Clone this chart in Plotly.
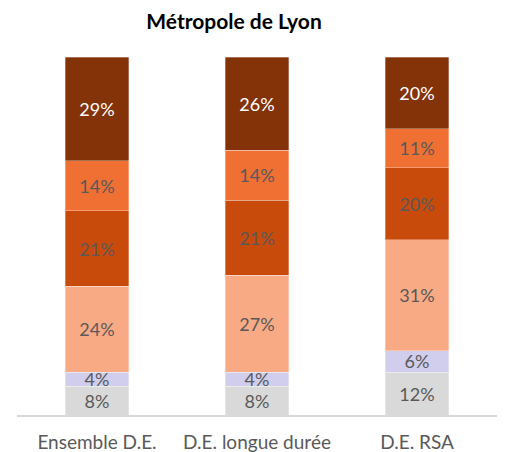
import plotly.graph_objects as go

categories = ["Ensemble D.E.", "D.E. longue durée", "D.E. RSA"]

# Stacked shares (%) from bottom to top
seg1 = [8, 8, 12]
seg2 = [4, 4, 6]
seg3 = [24, 27, 31]
seg4 = [21, 21, 20]
seg5 = [14, 14, 11]
seg6 = [29, 26, 20]

series = [seg1, seg2, seg3, seg4, seg5, seg6]
colors = ["#D9D9D9", "#D0CEEC", "#F8AA85", "#C94B0C", "#F07033", "#843208"]
text_colors = ["#595959", "#595959", "#595959", "#595959", "#595959", "#FFFFFF"]

fig = go.Figure()
for vals, col, tcol in zip(series, colors, text_colors):
    fig.add_trace(go.Bar(
        x=categories,
        y=vals,
        marker=dict(color=col, line=dict(color="rgba(255,255,255,0.5)", width=0.6)),
        text=[f"{v}%" for v in vals],
        textposition="inside",
        insidetextanchor="middle",
        textangle=0,
        constraintext="none",
        textfont=dict(family="Lato", size=18, color=tcol),
        width=0.395,
        hoverinfo="skip",
    ))

fig.update_layout(
    barmode="stack",
    width=505,
    height=452,
    margin=dict(l=17, r=8, t=57, b=37),
    paper_bgcolor="white",
    plot_bgcolor="white",
    showlegend=False,
    title=dict(
        text="<b>Métropole de Lyon</b>",
        x=234 / 505,
        xref="container",
        xanchor="center",
        y=1 - 22 / 452,
        yref="container",
        yanchor="middle",
        font=dict(family="Lato", size=21, color="#000000"),
    ),
    xaxis=dict(
        automargin=False,
        showline=True,
        linecolor="#D9D9D9",
        linewidth=1.5,
        ticks="",
        ticklabelstandoff=9,
        tickfont=dict(family="Lato", size=19, color="#595959"),
        showgrid=False,
    ),
    yaxis=dict(
        range=[0, 100],
        visible=False,
        showgrid=False,
    ),
)

fig.write_html("out.html")
